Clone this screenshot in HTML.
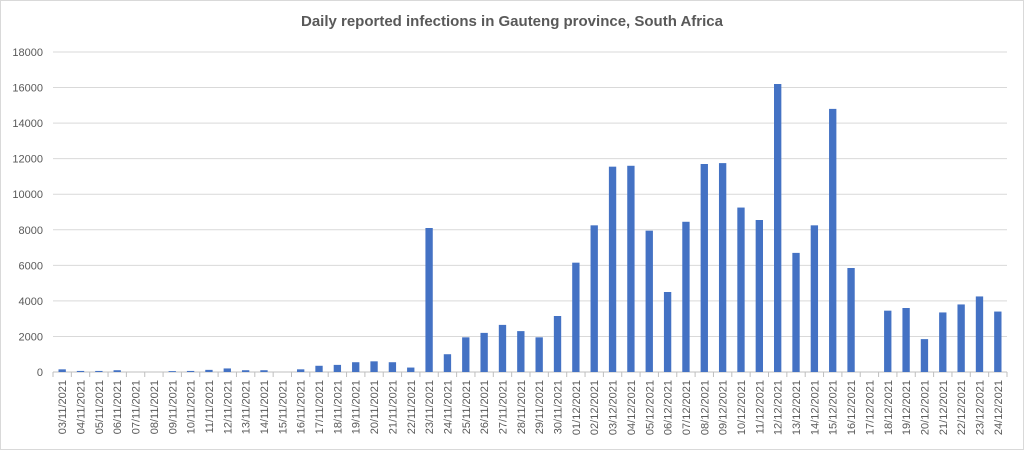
<!DOCTYPE html>
<html><head><meta charset="utf-8"><style>
html,body{margin:0;padding:0;background:#fff;}
svg{display:block;font-family:"Liberation Sans",sans-serif;}
</style></head><body>
<svg id="chart" width="1024" height="450">
<rect x="0.5" y="0.5" width="1023" height="449" fill="#fff" stroke="#d9d9d9"/>
<text x="512" y="26" text-anchor="middle" font-size="15" font-weight="bold" fill="#595959">Daily reported infections in Gauteng province, South Africa</text>
<g id="grid"></g><g id="bars"></g><g id="xlabels"></g><g id="ylabels"></g>
</svg>
<script>
const categories=["03/11/2021","04/11/2021","05/11/2021","06/11/2021","07/11/2021","08/11/2021","09/11/2021","10/11/2021","11/11/2021","12/11/2021","13/11/2021","14/11/2021","15/11/2021","16/11/2021","17/11/2021","18/11/2021","19/11/2021","20/11/2021","21/11/2021","22/11/2021","23/11/2021","24/11/2021","25/11/2021","26/11/2021","27/11/2021","28/11/2021","29/11/2021","30/11/2021","01/12/2021","02/12/2021","03/12/2021","04/12/2021","05/12/2021","06/12/2021","07/12/2021","08/12/2021","09/12/2021","10/12/2021","11/12/2021","12/12/2021","13/12/2021","14/12/2021","15/12/2021","16/12/2021","17/12/2021","18/12/2021","19/12/2021","20/12/2021","21/12/2021","22/12/2021","23/12/2021","24/12/2021"];
const infections=[150,60,60,100,0,0,50,60,120,200,100,100,0,150,350,400,550,600,550,250,8100,1000,1950,2200,2650,2300,1950,3150,6150,8250,11550,11600,7950,4500,8450,11700,11750,9250,8550,16200,6700,8250,14800,5850,0,3450,3600,1850,3350,3800,4250,3400];
const yTicks=[0,2000,4000,6000,8000,10000,12000,14000,16000,18000];
const NS="http://www.w3.org/2000/svg";
const L=53,R=1007,T=52,B=372,YMAX=18000;
const y=v=>B-(v/YMAX)*(B-T);
const band=(R-L)/categories.length;
const x=i=>L+band*i;
function mk(tag,attrs,parent){const e=document.createElementNS(NS,tag);for(const k in attrs)e.setAttribute(k,attrs[k]);document.getElementById(parent).appendChild(e);return e;}
yTicks.forEach(t=>{
  const g=mk("line",{x1:L,x2:R,y1:y(t),y2:y(t),stroke:t===0?"#bfbfbf":"#d9d9d9","stroke-width":1},"grid");
  
  
  const lb=mk("text",{x:L-10,y:y(t)+4,"text-anchor":"end","font-size":11,fill:"#595959"},"ylabels");
  lb.textContent=t;
  
  
});
categories.forEach((c,i)=>{
  const tk=mk("line",{x1:x(i),x2:x(i),y1:B,y2:B+5,stroke:"#bfbfbf"},"grid");
  
  
  const bw=band*0.4;
  const v=infections[i];
  const r=mk("rect",{x:x(i)+(band-bw)/2,y:y(v),width:bw,height:B-y(v),fill:"#4472c4"},"bars");
  
  
  const cx=x(i)+band/2+4, cy=B+8;
  const t=mk("text",{x:cx,y:cy,"text-anchor":"end","font-size":11,fill:"#595959",transform:`rotate(-90 ${cx} ${cy})`},"xlabels");
  t.textContent=c;
  
  
});
const lt=mk("line",{x1:R,x2:R,y1:B,y2:B+5,stroke:"#bfbfbf"},"grid");


</script>
</body></html>
